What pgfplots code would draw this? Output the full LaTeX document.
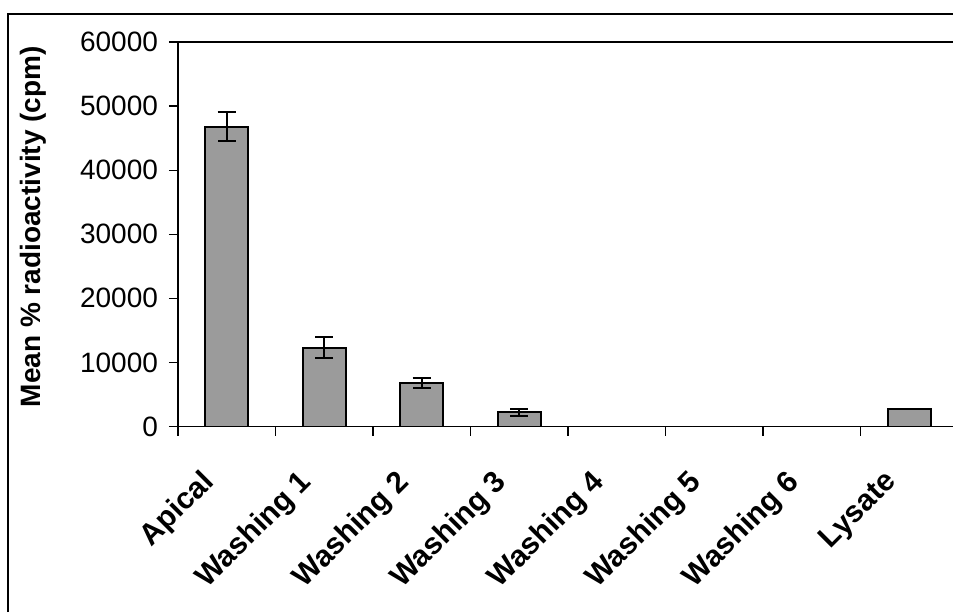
\documentclass[border=0pt]{standalone}
\usepackage{pgfplots}
\pgfplotsset{compat=1.18}
\usepackage{fontspec}
\setmainfont{Liberation Sans}
\definecolor{bargray}{RGB}{155,155,155}
\begin{document}
\begin{tikzpicture}
\begin{axis}[
  at={(0,0)}, anchor=south west,
  scale only axis, width=390pt, height=192.25pt,
  xmin=-0.5, xmax=7.5, ymin=0, ymax=60000,
  ytick={0,10000,20000,30000,40000,50000,60000},
  scaled y ticks=false,
  /pgf/number format/assume math mode=true,
  /pgf/number format/1000 sep={},
  xtick={-0.5,0.5,...,7.5},
  x tick label as interval,
  xticklabels={Apical,Washing 1,Washing 2,Washing 3,Washing 4,Washing 5,Washing 6,Lysate},
  tick pos=left, tick align=outside, major tick length=4.5pt,
  tick style={black, line width=0.6pt},
  axis line style={black, line width=0.8pt},
  yticklabel style={font=\fontsize{14}{16}\selectfont, xshift=-2pt},
  xticklabel style={rotate=45, anchor=east, font=\bfseries\fontsize{15}{17}\selectfont, xshift=-17.5pt, yshift=-9pt},
  ylabel={Mean \% radioactivity (cpm)},
  ylabel style={at={(axis description cs:-0.185,0.52)}, anchor=center, font=\bfseries\fontsize{14}{16}\selectfont},
  ybar, bar width=21.5pt,
]
\addplot[fill=bargray, draw=black, line width=1pt,
  error bars/.cd, y dir=both, y explicit,
  error bar style={black, line width=1pt},
  error mark options={rotate=90, mark size=4.5pt, black, line width=1pt}]
  coordinates {
  (0,46800) +- (0,2300)
  (1,12300) +- (0,1600)
  (2,6800) +- (0,800)
  (3,2200) +- (0,600)
  (4,0) +- (0,0)
  (5,0) +- (0,0)
  (6,0) +- (0,0)
  (7,2800) +- (0,0)
  };
\end{axis}
\draw[line width=0.8pt] (-85pt,-92.75pt) -- (-85pt,206.25pt) -- (387.5pt,206.25pt);
\pgfresetboundingbox
\useasboundingbox (-89pt,-92.75pt) rectangle (387.5pt,213.25pt);
\end{tikzpicture}
\end{document}
